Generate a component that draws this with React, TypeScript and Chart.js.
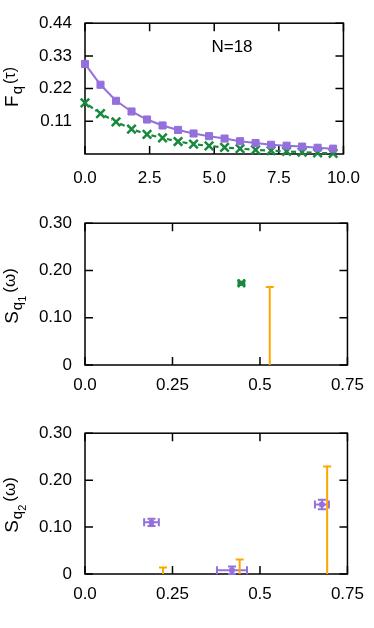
import React, { useEffect, useRef } from 'react';
import { Chart, registerables } from 'chart.js';

Chart.register(...registerables);

// ---------- data ----------
const tau = [0, 0.6, 1.2, 1.8, 2.4, 3.0, 3.6, 4.2, 4.8, 5.4, 6.0, 6.6, 7.2, 7.8, 8.4, 9.0, 9.6];
const fqPurple = [0.303, 0.233, 0.179, 0.143, 0.116, 0.096, 0.081, 0.069, 0.060, 0.052, 0.043, 0.037, 0.031, 0.028, 0.025, 0.021, 0.018];
const fqGreen = [0.172, 0.136, 0.108, 0.084, 0.066, 0.054, 0.042, 0.033, 0.027, 0.022, 0.018, 0.014, 0.011, 0.009, 0.006, 0.004, 0.002];

const fqXTicks = [0, 2.5, 5, 7.5, 10];
const fqXLabels = ['0.0', '2.5', '5.0', '7.5', '10.0'];
const fqYTicks = [0.11, 0.22, 0.33, 0.44];
const fqYLabels = ['0.11', '0.22', '0.33', '0.44'];

const wTicks = [0, 0.25, 0.5, 0.75];
const wLabels = ['0.0', '0.25', '0.5', '0.75'];
const sTicks = [0, 0.1, 0.2, 0.3];
const sLabels = ['0', '0.10', '0.20', '0.30'];

const s1GreenW = [0.447];
const s1GreenS = [0.173];
const s1GreenWErr = [0.008];
const s1GreenSErr = [0.003];
const s1OrangeW = [0.528];
const s1OrangeTop = [0.165];

const s2PurpleW = [0.19, 0.42, 0.677];
const s2PurpleS = [0.11, 0.008, 0.148];
const s2PurpleWErr = [0.021, 0.043, 0.02];
const s2PurpleSErr = [0.0075, 0.008, 0.01];
const s2OrangeW = [0.223, 0.442, 0.692];
const s2OrangeTop = [0.0136, 0.031, 0.229];

const PURPLE = '#9370DB';
const GREEN = '#15893c';
const ORANGE = '#FFA500';
const FONT = '"Liberation Sans", Arial, Helvetica, sans-serif';
const TL = 8;

type Piece = { t: string; size: number; dy: number; gap?: number };
type Err = { x: number; y: number; xMin?: number; xMax?: number; yMin?: number; yMax?: number; capLow?: boolean };

// dashed polyline: each segment gets dashes between its end markers
function drawDashed(ctx: any, pts: number[][], on: number, off: number, inset: number) {
  ctx.beginPath();
  for (let i = 1; i < pts.length; i++) {
    const x0 = pts[i - 1][0], y0 = pts[i - 1][1];
    const x1 = pts[i][0], y1 = pts[i][1];
    const len = Math.hypot(x1 - x0, y1 - y0);
    if (!(len > 0)) continue;
    const ux = (x1 - x0) / len, uy = (y1 - y0) / len;
    const end = len - inset;
    let s = inset;
    let guard = 0;
    while (s < end && guard++ < 100) {
      const e = Math.min(s + on, end);
      ctx.moveTo(x0 + ux * s, y0 + uy * s);
      ctx.lineTo(x0 + ux * e, y0 + uy * e);
      s += on + off;
    }
  }
  ctx.stroke();
}

function makePlugin(xTicks: number[], yTicks: number[], title: Piece[], titleX: number, titleY: number, note?: { t: string; x: number; y: number }, dashed?: { xs: number[]; ys: number[]; color: string }) {
  return {
    id: 'gpFrame',
    beforeDatasetsDraw(chart: any) {
      const { ctx, chartArea: a, scales } = chart;
      ctx.save();
      ctx.strokeStyle = '#000';
      ctx.lineWidth = 1.5;
      ctx.strokeRect(a.left, a.top, a.right - a.left, a.bottom - a.top);
      ctx.beginPath();
      for (const v of xTicks) {
        const px = scales.x.getPixelForValue(v);
        ctx.moveTo(px, a.bottom); ctx.lineTo(px, a.bottom - TL);
        ctx.moveTo(px, a.top); ctx.lineTo(px, a.top + TL);
      }
      for (const v of yTicks) {
        const py = scales.y.getPixelForValue(v);
        ctx.moveTo(a.left, py); ctx.lineTo(a.left + TL, py);
        ctx.moveTo(a.right, py); ctx.lineTo(a.right - TL, py);
      }
      ctx.stroke();
      // error bars
      chart.data.datasets.forEach((ds: any) => {
        if (!ds.errBars) return;
        ctx.strokeStyle = ds.errColor || ds.borderColor;
        ctx.lineWidth = 2;
        const cap = 4;
        ctx.beginPath();
        for (const e of ds.errBars as Err[]) {
          const cx = scales.x.getPixelForValue(e.x);
          const cy = scales.y.getPixelForValue(e.y);
          if (e.yMin !== undefined && e.yMax !== undefined) {
            const y0 = scales.y.getPixelForValue(e.yMin);
            const y1 = scales.y.getPixelForValue(e.yMax);
            ctx.moveTo(cx, y0); ctx.lineTo(cx, y1);
            ctx.moveTo(cx - cap, y1); ctx.lineTo(cx + cap, y1);
            if (e.capLow !== false) { ctx.moveTo(cx - cap, y0); ctx.lineTo(cx + cap, y0); }
          }
          if (e.xMin !== undefined && e.xMax !== undefined) {
            const x0 = scales.x.getPixelForValue(e.xMin);
            const x1 = scales.x.getPixelForValue(e.xMax);
            ctx.moveTo(x0, cy); ctx.lineTo(x1, cy);
            ctx.moveTo(x0, cy - cap); ctx.lineTo(x0, cy + cap);
            ctx.moveTo(x1, cy - cap); ctx.lineTo(x1, cy + cap);
          }
        }
        ctx.stroke();
      });
      ctx.restore();
    },
    afterDatasetsDraw(chart: any) {
      if (!dashed) return;
      const { ctx, scales } = chart;
      const pts = dashed.xs.map((x, i) => [scales.x.getPixelForValue(x), scales.y.getPixelForValue(dashed.ys[i])]);
      ctx.save();
      ctx.setLineDash([]);
      ctx.strokeStyle = dashed.color;
      ctx.lineWidth = 2.2;
      ctx.lineCap = 'butt';
      drawDashed(ctx, pts, 5, 3, 4.5);
      ctx.restore();
    },
    afterDraw(chart: any) {
      const { ctx } = chart;
      ctx.save();
      ctx.fillStyle = '#000';
      ctx.textBaseline = 'alphabetic';
      ctx.textAlign = 'left';
      let total = 0;
      for (const p of title) { ctx.font = `${p.size}px ${FONT}`; total += ctx.measureText(p.t).width + (p.gap || 0); }
      ctx.translate(titleX, titleY);
      ctx.rotate(-Math.PI / 2);
      let x = -total / 2;
      for (const p of title) {
        ctx.font = `${p.size}px ${FONT}`;
        x += p.gap || 0;
        ctx.fillText(p.t, x, p.dy);
        x += ctx.measureText(p.t).width;
      }
      ctx.restore();
      if (note) {
        ctx.save();
        ctx.fillStyle = '#000';
        ctx.font = `17px ${FONT}`;
        ctx.textAlign = 'center';
        ctx.textBaseline = 'middle';
        ctx.fillText(note.t, note.x, note.y);
        ctx.restore();
      }
    },
  };
}

function makeOptions(xMin: number, xMax: number, yMin: number, yMax: number, xTicks: number[], xLabels: string[], yTicks: number[], yLabels: string[], top: number, xAxisH: number, xPad: number) {
  const tickFont = { family: FONT, size: 17 };
  return {
    animation: false,
    responsive: false,
    maintainAspectRatio: false,
    layout: { padding: { left: 0, right: 26, top, bottom: 0 } },
    plugins: { legend: { display: false }, tooltip: { enabled: false } },
    scales: {
      x: {
        type: 'linear', min: xMin, max: xMax,
        grid: { display: false, drawTicks: false }, border: { display: false },
        afterBuildTicks: (s: any) => { s.ticks = xTicks.map((v) => ({ value: v })); },
        afterFit: (s: any) => { s.height = xAxisH; },
        ticks: { color: '#000', font: tickFont, padding: xPad, maxRotation: 0, autoSkip: false, callback: (_v: any, i: number) => xLabels[i] },
      },
      y: {
        type: 'linear', min: yMin, max: yMax,
        grid: { display: false, drawTicks: false }, border: { display: false },
        afterBuildTicks: (s: any) => { s.ticks = yTicks.map((v) => ({ value: v })); },
        afterFit: (s: any) => { s.width = 85; },
        ticks: { color: '#000', font: tickFont, padding: 13, autoSkip: false, callback: (_v: any, i: number) => yLabels[i] },
      },
    },
  };
}

function buildPanel1(): any {
  return {
    type: 'scatter',
    data: {
      datasets: [
        {
          data: tau.map((t, i) => ({ x: t, y: fqPurple[i] })),
          showLine: true, borderColor: PURPLE, borderWidth: 2, backgroundColor: PURPLE,
          pointStyle: 'rect', pointRadius: 5, pointBackgroundColor: PURPLE, pointBorderColor: PURPLE, pointBorderWidth: 1, clip: false,
        },
        {
          data: tau.map((t, i) => ({ x: t, y: fqGreen[i] })),
          showLine: false, borderColor: GREEN, borderWidth: 2, backgroundColor: GREEN,
          pointStyle: 'crossRot', pointRadius: 6, pointBorderColor: GREEN, pointBorderWidth: 2.5, clip: false,
        },
      ],
    },
    options: makeOptions(0, 10, 0, 0.44, fqXTicks, fqXLabels, fqYTicks, fqYLabels, 10, 46, 14),
    plugins: [makePlugin(fqXTicks, fqYTicks, [
      { t: 'F', size: 19, dy: 0 }, { t: 'q', size: 15, dy: 4, gap: 1 }, { t: '(τ)', size: 16, dy: -3, gap: 2 },
    ], 18, 87, { t: 'N=18', x: 232, y: 47 }, { xs: tau, ys: fqGreen, color: GREEN })],
  };
}

function buildPanel2(): any {
  return {
    type: 'scatter',
    data: {
      datasets: [
        {
          data: s1GreenW.map((w, i) => ({ x: w, y: s1GreenS[i] })),
          errBars: s1GreenW.map((w, i) => ({ x: w, y: s1GreenS[i], xMin: w - s1GreenWErr[i], xMax: w + s1GreenWErr[i], yMin: s1GreenS[i] - s1GreenSErr[i], yMax: s1GreenS[i] + s1GreenSErr[i] })),
          borderColor: GREEN, backgroundColor: GREEN,
          pointStyle: 'crossRot', pointRadius: 5, pointBorderColor: GREEN, pointBorderWidth: 2.5, clip: false,
        },
        {
          data: s1OrangeW.map((w, i) => ({ x: w, y: s1OrangeTop[i] })),
          errBars: s1OrangeW.map((w, i) => ({ x: w, y: s1OrangeTop[i], yMin: 0, yMax: s1OrangeTop[i], capLow: false })),
          borderColor: ORANGE, backgroundColor: ORANGE, pointRadius: 0, clip: false,
        },
      ],
    },
    options: makeOptions(0, 0.75, 0, 0.3, wTicks, wLabels, sTicks, sLabels, 19, 45, 10),
    plugins: [makePlugin(wTicks, sTicks, [
      { t: 'S', size: 19, dy: 0 }, { t: 'q', size: 15, dy: 4, gap: 1 }, { t: '1', size: 11, dy: 8 }, { t: '(ω)', size: 17, dy: -3, gap: 3 },
    ], 18, 96)],
  };
}

function buildPanel3(): any {
  return {
    type: 'scatter',
    data: {
      datasets: [
        {
          data: s2PurpleW.map((w, i) => ({ x: w, y: s2PurpleS[i] })),
          errBars: s2PurpleW.map((w, i) => ({ x: w, y: s2PurpleS[i], xMin: w - s2PurpleWErr[i], xMax: w + s2PurpleWErr[i], yMin: s2PurpleS[i] - s2PurpleSErr[i], yMax: s2PurpleS[i] + s2PurpleSErr[i] })),
          borderColor: PURPLE, backgroundColor: PURPLE,
          pointStyle: 'rect', pointRadius: 3, pointBackgroundColor: PURPLE, pointBorderColor: PURPLE, clip: false,
        },
        {
          data: s2OrangeW.map((w, i) => ({ x: w, y: s2OrangeTop[i] })),
          errBars: s2OrangeW.map((w, i) => ({ x: w, y: s2OrangeTop[i], yMin: 0, yMax: s2OrangeTop[i], capLow: false })),
          borderColor: ORANGE, backgroundColor: ORANGE, pointRadius: 0, clip: false,
        },
      ],
    },
    options: makeOptions(0, 0.75, 0, 0.3, wTicks, wLabels, sTicks, sLabels, 18, 54, 10),
    plugins: [makePlugin(wTicks, sTicks, [
      { t: 'S', size: 19, dy: 0 }, { t: 'q', size: 15, dy: 4, gap: 1 }, { t: '2', size: 11, dy: 8 }, { t: '(ω)', size: 17, dy: -3, gap: 3 },
    ], 18, 95)],
  };
}

function Panel({ height, build }: { height: number; build: () => any }) {
  const ref = useRef<HTMLCanvasElement | null>(null);
  useEffect(() => {
    if (!ref.current) return;
    const chart = new Chart(ref.current, build());
    return () => chart.destroy();
  }, [build]);
  return <canvas ref={ref} width={374} height={height} style={{ display: 'block', width: 374, height }} />;
}

export default function App() {
  return (
    <div style={{ position: 'absolute', left: 0, top: 0, width: 374, height: 628, background: '#fff' }}>
      <Panel height={200} build={buildPanel1} />
      <Panel height={210} build={buildPanel2} />
      <Panel height={218} build={buildPanel3} />
    </div>
  );
}
